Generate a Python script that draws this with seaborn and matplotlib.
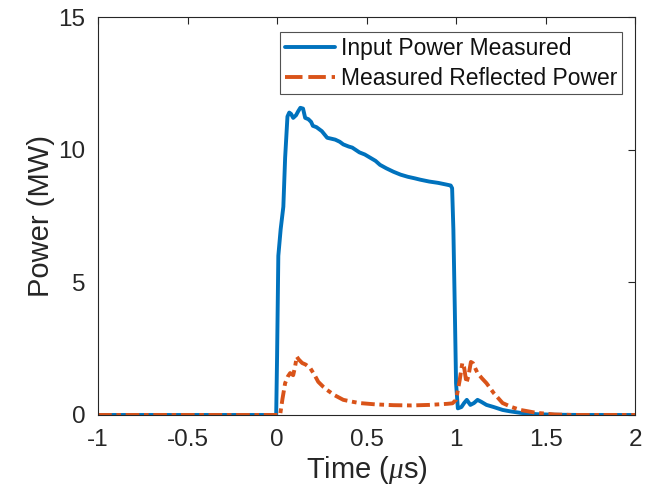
import numpy as np
import pandas as pd
import matplotlib
matplotlib.use("Agg")
import matplotlib.pyplot as plt
import seaborn as sns

# ---- data ----
t_input = [-1.0, -0.5, -0.02, -0.005, 0.0, 0.007, 0.02, 0.035, 0.045, 0.058, 0.068, 0.078,
           0.09, 0.106, 0.118, 0.13, 0.145, 0.157, 0.175, 0.19, 0.2, 0.22, 0.25, 0.28,
           0.3, 0.325, 0.35, 0.37, 0.4, 0.42, 0.46, 0.49, 0.52, 0.55, 0.575, 0.61, 0.65,
           0.69, 0.73, 0.77, 0.8, 0.85, 0.9, 0.95, 0.97, 0.978, 0.985, 0.993, 1.0, 1.01,
           1.03, 1.045, 1.06, 1.08, 1.1, 1.12, 1.14, 1.17, 1.21, 1.26, 1.3, 1.36, 1.45,
           1.55, 1.7, 2.0]
p_input = [0.0, 0.0, 0.0, 0.0, 2.2, 6.0, 7.0, 7.85, 9.7, 11.25, 11.4, 11.35,
           11.2, 11.3, 11.45, 11.58, 11.55, 11.2, 11.15, 11.05, 10.9, 10.85, 10.7, 10.45,
           10.42, 10.38, 10.3, 10.2, 10.12, 10.08, 9.9, 9.82, 9.7, 9.58, 9.43, 9.3, 9.17,
           9.06, 8.98, 8.92, 8.87, 8.8, 8.75, 8.68, 8.65, 8.55, 7.0, 4.0, 1.2, 0.25,
           0.3, 0.45, 0.57, 0.38, 0.45, 0.57, 0.5, 0.38, 0.3, 0.19, 0.14, 0.08, 0.03,
           0.01, 0.0, 0.0]

t_refl = [-1.0, -0.5, 0.0, 0.017, 0.03, 0.045, 0.06, 0.073, 0.09, 0.1, 0.11, 0.12, 0.14,
          0.16, 0.185, 0.21, 0.23, 0.26, 0.28, 0.32, 0.37, 0.42, 0.46, 0.55, 0.65, 0.75,
          0.85, 0.95, 0.98, 1.0, 1.02, 1.035, 1.045, 1.058, 1.07, 1.083, 1.095, 1.108,
          1.12, 1.145, 1.17, 1.21, 1.26, 1.31, 1.36, 1.45, 1.55, 1.65, 2.0]
p_refl = [0.0, 0.0, 0.0, 0.0, 0.6, 1.2, 1.45, 1.58, 1.5, 1.8, 2.2, 2.1, 1.96,
          1.9, 1.77, 1.5, 1.25, 1.05, 0.94, 0.75, 0.57, 0.5, 0.45, 0.4, 0.37, 0.36,
          0.38, 0.42, 0.44, 0.57, 1.3, 1.96, 1.8, 1.2, 1.5, 2.0, 1.95, 1.75,
          1.58, 1.38, 1.2, 0.83, 0.45, 0.3, 0.19, 0.08, 0.02, 0.0, 0.0]

label_input = "Input Power Measured"
label_refl = "Measured Reflected Power"
x_ticks = [-1, -0.5, 0, 0.5, 1, 1.5, 2]
x_ticklabels = ["-1", "-0.5", "0", "0.5", "1", "1.5", "2"]
y_ticks = [0, 5, 10, 15]

# ---- plotting ----
sns.set_theme(style="white")
plt.rcParams["font.family"] = ["Liberation Sans", "DejaVu Sans"]
plt.rcParams["mathtext.fontset"] = "custom"
plt.rcParams["mathtext.it"] = "Liberation Serif:italic"
plt.rcParams["mathtext.rm"] = "Liberation Sans"

fig = plt.figure(figsize=(6.54, 4.98), dpi=100)
ax = fig.add_axes([0.150, 0.1667, 0.821, 0.799])

df_in = pd.DataFrame({"t": t_input, "p": p_input})
df_rf = pd.DataFrame({"t": t_refl, "p": p_refl})

sns.lineplot(data=df_in, x="t", y="p", ax=ax, color="#0072BD", linewidth=2.8,
             label=label_input, estimator=None, sort=False)
sns.lineplot(data=df_rf, x="t", y="p", ax=ax, color="#D95319", linewidth=2.8,
             label=label_refl, estimator=None, sort=False)
ax.lines[1].set_dashes([3.5, 1.2, 1.2, 1.2])

ax.set_xlim(-1, 2)
ax.set_ylim(0, 15)
ax.set_xticks(x_ticks)
ax.set_xticklabels(x_ticklabels)
ax.set_yticks(y_ticks)

tc = "#262626"
ax.tick_params(axis="both", which="both", direction="in", length=5, width=0.8,
               colors=tc, labelsize=17.5, top=True, right=True)
ax.tick_params(axis="x", pad=10)
ax.tick_params(axis="y", pad=9)
for s in ax.spines.values():
    s.set_color("#262626")
    s.set_linewidth(0.8)
    s.set_visible(True)

ax.set_xlabel(r"Time ($\mu$s)", fontsize=21, color=tc, labelpad=2)
ax.set_ylabel("Power (MW)", fontsize=21, color=tc, labelpad=2.5)

leg = ax.legend(loc="upper right", bbox_to_anchor=(0.976, 0.962), fontsize=16.5,
                frameon=True, fancybox=False, handlelength=2.2, handletextpad=0.25,
                borderpad=0.2, labelspacing=0.3, borderaxespad=0.0)
leg.get_frame().set_edgecolor("#262626")
leg.get_frame().set_linewidth(0.8)
leg.get_lines()[1].set_dashes([4.5, 1.5])
for txt in leg.get_texts():
    txt.set_color("#111111")

fig.savefig("out.png", dpi=100, facecolor="white")
